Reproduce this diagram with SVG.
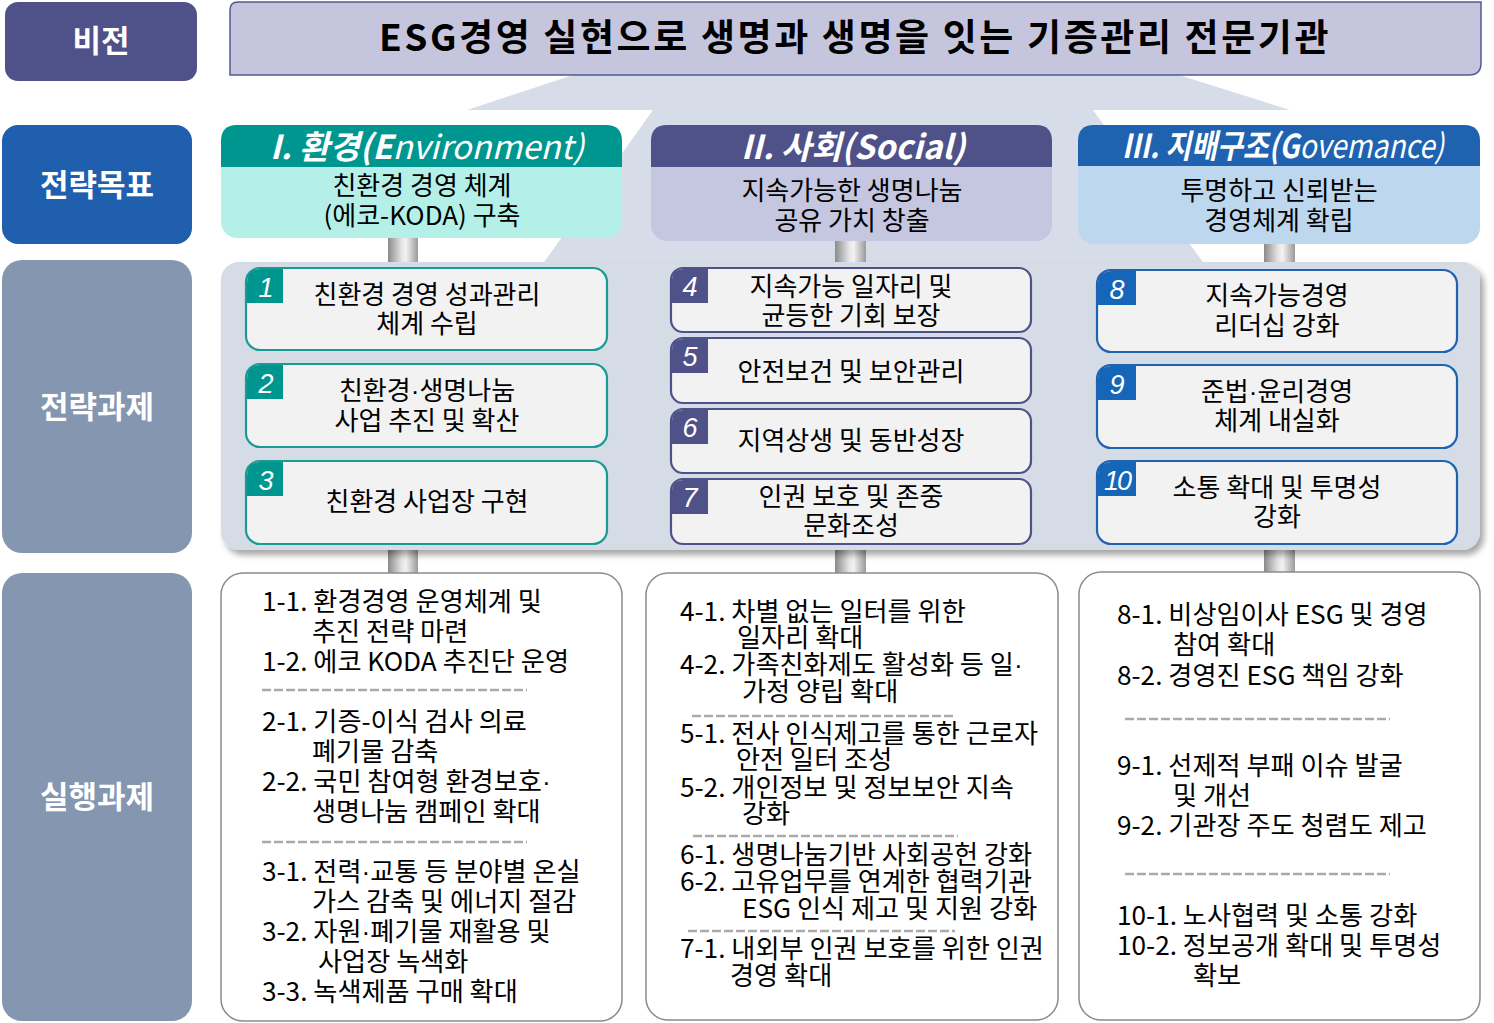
<svg xmlns="http://www.w3.org/2000/svg" width="1494" height="1023" viewBox="0 0 1494 1023">
<defs>
<linearGradient id="pillar" x1="0" y1="0" x2="1" y2="0">
<stop offset="0" stop-color="#8a8a8a"/><stop offset="0.45" stop-color="#e4e4e4"/><stop offset="0.6" stop-color="#f2f2f2"/><stop offset="1" stop-color="#9a9a9a"/>
</linearGradient>
<filter id="shadow" x="-5%" y="-5%" width="110%" height="115%">
<feGaussianBlur in="SourceAlpha" stdDeviation="3"/><feOffset dx="4" dy="5" result="b"/>
<feComponentTransfer><feFuncA type="linear" slope="0.35"/></feComponentTransfer>
<feMerge><feMergeNode/><feMergeNode in="SourceGraphic"/></feMerge>
</filter>
<style>
text{font-family:"Noto Sans CJK KR","Noto Sans",sans-serif;}
.dot{font-family:"Liberation Sans",sans-serif;}
.lbl{fill:#fff;font-size:31px;font-weight:bold;text-anchor:middle;}
.vis{fill:#000;font-size:37px;font-weight:bold;text-anchor:middle;}
.htitle{fill:#fff;font-size:33px;font-style:italic;text-anchor:middle;}
.sub{fill:#000;font-size:26px;text-anchor:middle;}
.task{fill:#000;font-size:26px;text-anchor:middle;}
.num{fill:#fff;font-size:27px;font-style:italic;font-family:"Liberation Sans",sans-serif;text-anchor:middle;}
.act{fill:#000;font-size:26.2px;}
.box{fill:#f2f2f2;stroke-width:2.2;}
.env{stroke:#1b9a94;}
.soc{stroke:#4f5189;}
.gov{stroke:#1f63b0;}
.abox{fill:#fff;stroke:#8c8c8c;stroke-width:1.5;}
.dash{stroke:#aaaaaa;stroke-width:2.5;stroke-dasharray:9 3;fill:none;}
</style>
</defs>
<rect width="1494" height="1023" fill="#fff"/>

<!-- background arrow shape -->
<polygon points="588,70 1163,70 1290,110 1093,110 1210,272 537,272 653,110 467,110" fill="#d7dde8"/>

<!-- left labels -->
<g id="label-vision"><rect x="5" y="2" width="192" height="79" rx="13" fill="#4f5189"/><text class="lbl" x="101" y="52">비전</text></g>
<g id="label-goal"><rect x="2" y="125" width="190" height="119" rx="16" fill="#1f5fad"/><text class="lbl" x="97" y="196">전략목표</text></g>
<g id="label-task"><rect x="2" y="260" width="190" height="293" rx="20" fill="#8496b0"/><text class="lbl" x="97" y="418">전략과제</text></g>
<g id="label-action"><rect x="2" y="573" width="190" height="448" rx="20" fill="#8496b0"/><text class="lbl" x="97" y="808">실행과제</text></g>

<!-- vision bar -->
<g id="vision">
<path d="M230,10 Q230,2 238,2 H1481 V63 Q1481,75 1469,75 H230 Z" fill="#c5c6de" stroke="#55588f" stroke-width="1.5"/>
<text class="vis" x="855" y="51" letter-spacing="2.6">ESG경영 실현으로 생명과 생명을 잇는 기증관리 전문기관</text>
</g>

<!-- connectors (pillars) -->
<g id="connectors">
<rect x="388" y="236" width="30" height="28" fill="url(#pillar)"/>
<rect x="835" y="239" width="31" height="25" fill="url(#pillar)"/>
<rect x="1264" y="242" width="31" height="22" fill="url(#pillar)"/>
<rect x="388" y="548" width="30" height="26" fill="url(#pillar)"/>
<rect x="835" y="548" width="31" height="26" fill="url(#pillar)"/>
<rect x="1264" y="548" width="31" height="25" fill="url(#pillar)"/>
</g>

<!-- goal headers -->
<g id="goal-env">
<rect x="221" y="125" width="401" height="113" rx="16" fill="#b5f0e8"/>
<path d="M221,167 V141 Q221,125 237,125 H606 Q622,125 622,141 V167 Z" fill="#009690"/>
<text class="htitle" x="427" y="159"><tspan font-weight="bold">I. 환경(E</tspan>nvironment)</text>
<text class="sub" x="422" y="195">친환경 경영 체계</text>
<text class="sub" x="422" y="225">(에코-KODA) 구축</text>
</g>
<g id="goal-soc">
<rect x="651" y="125" width="401" height="116" rx="16" fill="#c5c6df"/>
<path d="M651,167 V141 Q651,125 667,125 H1036 Q1052,125 1052,141 V167 Z" fill="#4f5189"/>
<text class="htitle" x="853" y="159" font-weight="bold">II. 사회(Social)</text>
<text class="sub" x="852" y="200">지속가능한 생명나눔</text>
<text class="sub" x="852" y="230">공유 가치 창출</text>
</g>
<g id="goal-gov">
<rect x="1078" y="125" width="402" height="119" rx="16" fill="#bdd7ee"/>
<path d="M1078,166 V141 Q1078,125 1094,125 H1464 Q1480,125 1480,141 V166 Z" fill="#1f63b0"/>
<text class="htitle" x="1283" y="158" font-size="32" textLength="322" lengthAdjust="spacingAndGlyphs"><tspan font-weight="bold">III. 지배구조(G</tspan>ovemance)</text>
<text class="sub" x="1279" y="200">투명하고 신뢰받는</text>
<text class="sub" x="1279" y="230">경영체계 확립</text>
</g>

<!-- strategy panel -->
<rect x="221" y="262" width="1259" height="288" rx="18" fill="#d6dce6" filter="url(#shadow)"/>

<!-- env tasks -->
<g id="task-1">
<rect class="box env" x="246" y="268" width="361" height="82" rx="14"/>
<path d="M247,303 V283 Q247,269 261,269 H283 V303 Z" fill="#009690"/>
<text class="num" x="266" y="297">1</text>
<text class="task" x="427" y="304">친환경 경영 성과관리</text>
<text class="task" x="427" y="333">체계 수립</text>
</g>
<g id="task-2">
<rect class="box env" x="246" y="364" width="361" height="83" rx="14"/>
<path d="M247,399 V379 Q247,365 261,365 H283 V399 Z" fill="#009690"/>
<text class="num" x="266" y="393">2</text>
<text class="task" x="427" y="400">친환경<tspan class="dot">·</tspan>생명나눔</text>
<text class="task" x="427" y="430">사업 추진 및 확산</text>
</g>
<g id="task-3">
<rect class="box env" x="246" y="461" width="361" height="83" rx="14"/>
<path d="M247,496 V476 Q247,462 261,462 H283 V496 Z" fill="#009690"/>
<text class="num" x="266" y="490">3</text>
<text class="task" x="427" y="511">친환경 사업장 구현</text>
</g>

<!-- social tasks -->
<g id="task-4">
<rect class="box soc" x="671" y="268" width="360" height="64" rx="12"/>
<path d="M672,303 V281 Q672,269 684,269 H708 V303 Z" fill="#4f5189"/>
<text class="num" x="690" y="296">4</text>
<text class="task" x="851" y="296">지속가능 일자리 및</text>
<text class="task" x="851" y="325">균등한 기회 보장</text>
</g>
<g id="task-5">
<rect class="box soc" x="671" y="338" width="360" height="65" rx="12"/>
<path d="M672,373 V351 Q672,339 684,339 H708 V373 Z" fill="#4f5189"/>
<text class="num" x="690" y="366">5</text>
<text class="task" x="851" y="381">안전보건 및 보안관리</text>
</g>
<g id="task-6">
<rect class="box soc" x="671" y="409" width="360" height="64" rx="12"/>
<path d="M672,444 V422 Q672,410 684,410 H708 V444 Z" fill="#4f5189"/>
<text class="num" x="690" y="437">6</text>
<text class="task" x="851" y="450">지역상생 및 동반성장</text>
</g>
<g id="task-7">
<rect class="box soc" x="671" y="479" width="360" height="65" rx="12"/>
<path d="M672,514 V492 Q672,480 684,480 H708 V514 Z" fill="#4f5189"/>
<text class="num" x="690" y="507">7</text>
<text class="task" x="851" y="506">인권 보호 및 존중</text>
<text class="task" x="851" y="535">문화조성</text>
</g>

<!-- gov tasks -->
<g id="task-8">
<rect class="box gov" x="1097" y="270" width="360" height="82" rx="14"/>
<path d="M1098,305 V285 Q1098,271 1112,271 H1136 V305 Z" fill="#1565b8"/>
<text class="num" x="1117" y="299">8</text>
<text class="task" x="1277" y="305">지속가능경영</text>
<text class="task" x="1277" y="335">리더십 강화</text>
</g>
<g id="task-9">
<rect class="box gov" x="1097" y="365" width="360" height="83" rx="14"/>
<path d="M1098,400 V380 Q1098,366 1112,366 H1136 V400 Z" fill="#1565b8"/>
<text class="num" x="1117" y="394">9</text>
<text class="task" x="1277" y="401">준법<tspan class="dot">·</tspan>윤리경영</text>
<text class="task" x="1277" y="430">체계 내실화</text>
</g>
<g id="task-10">
<rect class="box gov" x="1097" y="461" width="360" height="83" rx="14"/>
<path d="M1098,496 V476 Q1098,462 1112,462 H1136 V496 Z" fill="#1565b8"/>
<text class="num" x="1117" y="490" letter-spacing="-2">10</text>
<text class="task" x="1277" y="497">소통 확대 및 투명성</text>
<text class="task" x="1277" y="526">강화</text>
</g>

<!-- action boxes -->
<g id="action-env">
<rect class="abox" x="221" y="573" width="401" height="448" rx="22"/>
<text class="act" x="262" y="611">1-1. 환경경영 운영체계 및</text>
<text class="act" x="312" y="641">추진 전략 마련</text>
<text class="act" x="262" y="671">1-2. 에코 KODA 추진단 운영</text>
<line class="dash" x1="262" y1="690" x2="527" y2="690"/>
<text class="act" x="262" y="731">2-1. 기증-이식 검사 의료</text>
<text class="act" x="312" y="761">폐기물 감축</text>
<text class="act" x="262" y="791">2-2. 국민 참여형 환경보호<tspan class="dot">·</tspan></text>
<text class="act" x="312" y="821">생명나눔 캠페인 확대</text>
<line class="dash" x1="262" y1="842" x2="527" y2="842"/>
<text class="act" x="262" y="881">3-1. 전력<tspan class="dot">·</tspan>교통 등 분야별 온실</text>
<text class="act" x="312" y="911">가스 감축 및 에너지 절감</text>
<text class="act" x="262" y="941">3-2. 자원<tspan class="dot">·</tspan>폐기물 재활용 및</text>
<text class="act" x="318" y="971">사업장 녹색화</text>
<text class="act" x="262" y="1001">3-3. 녹색제품 구매 확대</text>
</g>
<g id="action-soc">
<rect class="abox" x="646" y="573" width="412" height="447" rx="22"/>
<text class="act" x="680" y="621">4-1. 차별 없는 일터를 위한</text>
<text class="act" x="737" y="647">일자리 확대</text>
<text class="act" x="680" y="674">4-2. 가족친화제도 활성화 등 일<tspan class="dot">·</tspan></text>
<text class="act" x="742" y="701">가정 양립 확대</text>
<line class="dash" x1="692" y1="716" x2="955" y2="716"/>
<text class="act" x="680" y="743">5-1. 전사 인식제고를 통한 근로자</text>
<text class="act" x="736" y="769">안전 일터 조성</text>
<text class="act" x="680" y="797">5-2. 개인정보 및 정보보안 지속</text>
<text class="act" x="742" y="823">강화</text>
<line class="dash" x1="693" y1="836" x2="958" y2="836"/>
<text class="act" x="680" y="864">6-1. 생명나눔기반 사회공헌 강화</text>
<text class="act" x="680" y="891">6-2. 고유업무를 연계한 협력기관</text>
<text class="act" x="742" y="918">ESG 인식 제고 및 지원 강화</text>
<line class="dash" x1="688" y1="931" x2="955" y2="931"/>
<text class="act" x="680" y="958">7-1. 내외부 인권 보호를 위한 인권</text>
<text class="act" x="730" y="985">경영 확대</text>
</g>
<g id="action-gov">
<rect class="abox" x="1079" y="572" width="401" height="448" rx="22"/>
<text class="act" x="1117" y="624">8-1. 비상임이사 ESG 및 경영</text>
<text class="act" x="1173" y="654">참여 확대</text>
<text class="act" x="1117" y="685">8-2. 경영진 ESG 책임 강화</text>
<line class="dash" x1="1125" y1="719" x2="1390" y2="719"/>
<text class="act" x="1117" y="775">9-1. 선제적 부패 이슈 발굴</text>
<text class="act" x="1173" y="805">및 개선</text>
<text class="act" x="1117" y="835">9-2. 기관장 주도 청렴도 제고</text>
<line class="dash" x1="1125" y1="874" x2="1390" y2="874"/>
<text class="act" x="1117" y="925">10-1. 노사협력 및 소통 강화</text>
<text class="act" x="1117" y="955">10-2. 정보공개 확대 및 투명성</text>
<text class="act" x="1193" y="985">확보</text>
</g>
</svg>
